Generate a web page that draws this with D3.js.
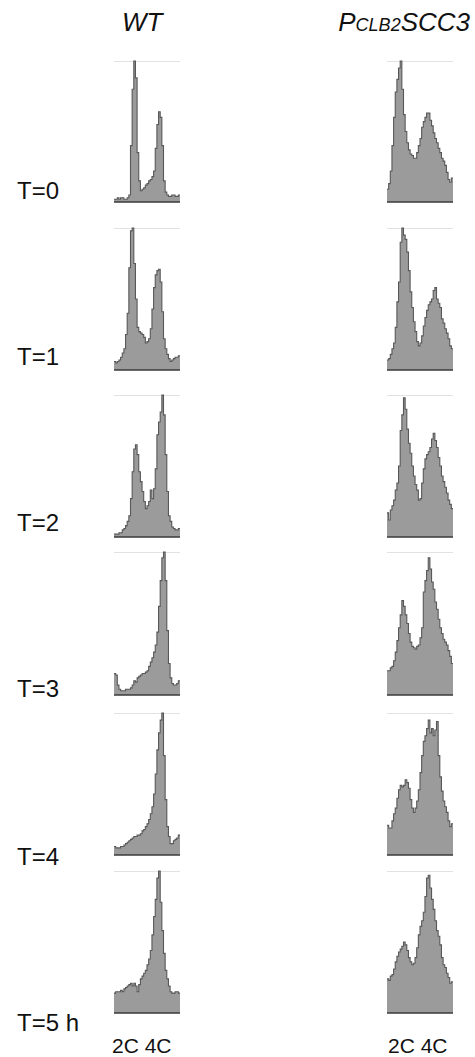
<!DOCTYPE html>
<html>
<head>
<meta charset="utf-8">
<script src="https://cdn.jsdelivr.net/npm/d3@7/dist/d3.min.js"></script>
<style>
  html, body { margin: 0; padding: 0; background: #fff; }
  svg { display: block; }
  text { font-family: "Liberation Sans", Arial, Helvetica, sans-serif; fill: #111; }
</style>
</head>
<body>
<svg id="chart" width="475" height="1057"></svg>
<script>
// ---- data ----
const timeLabels = ["T=0", "T=1", "T=2", "T=3", "T=4", "T=5 h"];
const strains = ["WT", "PCLB2SCC3"];
const dnaTicks = ["2C", "4C"];

// DNA-content histograms, 40 bins each, relative counts (0-100)
const wtT0 = [2,2,3,2,3,3,2,2,3,5,40,80,100,88,35,15,8,9,10,12,13,15,16,18,22,38,55,64,60,40,15,7,5,4,4,5,5,4,4,5];
const wtT1 = [6,5,6,7,9,12,15,25,40,72,98,100,75,50,30,27,26,25,23,19,20,22,29,43,58,67,70,71,62,41,22,15,11,8,6,7,8,9,9,10];
const wtT2 = [2,2,2,3,3,5,6,8,11,15,27,46,62,65,58,46,39,32,25,20,22,25,33,27,34,48,72,81,88,100,86,58,32,15,11,7,6,5,5,6];
const wtT3 = [15,14,7,4,3,3,3,4,4,4,5,7,10,9,12,13,14,15,15,16,17,20,23,26,30,35,44,62,80,96,100,80,45,22,12,8,7,7,8,10];
const wtT4 = [6,5,5,5,6,6,7,8,9,10,11,12,13,13,14,14,15,17,18,20,22,25,29,34,43,57,74,86,95,100,70,39,20,13,8,8,10,11,12,14];
const wtT5 = [14,15,15,15,16,15,17,18,19,20,21,19,21,19,15,20,24,26,28,30,34,38,44,55,68,80,95,100,78,58,42,30,24,19,15,14,14,15,15,14];

const sccT0 = [9,13,22,40,60,78,87,95,100,80,62,50,42,37,34,33,31,31,35,40,45,53,57,60,63,63,58,54,49,45,42,38,35,31,29,26,21,16,14,17];
const sccT1 = [7,8,11,15,19,30,48,62,90,100,95,92,83,70,55,44,34,27,20,17,19,24,31,37,42,46,48,50,56,58,50,47,44,36,33,29,26,22,17,15];
const sccT2 = [17,12,19,22,26,33,38,50,75,86,98,90,76,66,59,50,43,37,33,26,27,38,48,55,58,60,63,69,73,68,63,56,50,43,39,35,31,26,23,20];
const sccT3 = [17,17,19,20,24,30,38,47,56,66,62,56,50,43,37,34,33,32,34,35,40,47,72,80,87,96,88,79,74,65,60,53,47,43,39,37,35,31,27,22];
const sccT4 = [21,19,19,24,29,33,40,46,49,48,49,53,51,47,39,33,30,33,38,46,58,70,80,84,89,95,86,89,84,88,94,70,55,45,38,34,30,24,20,22];
const sccT5 = [24,23,26,27,31,36,40,43,45,47,50,48,44,39,36,34,35,39,46,55,61,65,71,82,95,97,88,80,73,65,58,54,48,39,34,32,28,25,21,22];

const wtSeries = [wtT0, wtT1, wtT2, wtT3, wtT4, wtT5];
const sccSeries = [sccT0, sccT1, sccT2, sccT3, sccT4, sccT5];

// ---- layout ----
const rowTop = [61, 228, 395, 552, 713, 871];
const rowBottom = [202, 370, 537, 695, 855, 1013];
const labelY = [199, 365, 531, 697, 865, 1031];
const colX = [[114, 180], [387, 453]];

const svg = d3.select("#chart");

function panel(values, x0, x1, top, bottom) {
  const n = values.length;
  const x = d3.scaleLinear().domain([0, n]).range([x0, x1]);
  const y = d3.scaleLinear().domain([0, 100]).range([bottom, top]);
  const pts = values.map((v, i) => [i, v]).concat([[n, values[n - 1]]]);
  const g = svg.append("g");
  // light top reference line
  g.append("line").attr("x1", x0).attr("x2", x1).attr("y1", top + 0.5).attr("y2", top + 0.5)
    .attr("stroke", "#e2e2e2").attr("stroke-width", 1);
  g.append("path").datum(pts)
    .attr("d", d3.area().x(d => x(d[0])).y0(bottom).y1(d => y(d[1])).curve(d3.curveStepAfter))
    .attr("fill", "#9b9b9b");
  g.append("path").datum(pts)
    .attr("d", d3.line().x(d => x(d[0])).y(d => y(d[1])).curve(d3.curveStepAfter))
    .attr("fill", "none").attr("stroke", "#585858").attr("stroke-width", 1.1);
  g.append("line").attr("x1", x0).attr("x2", x1).attr("y1", bottom).attr("y2", bottom)
    .attr("stroke", "#3a3a3a").attr("stroke-width", 1.3);
}

[wtSeries, sccSeries].forEach((series, c) => {
  series.forEach((vals, r) => panel(vals, colX[c][0], colX[c][1], rowTop[r], rowBottom[r]));
});

// row labels
svg.selectAll("text.tl").data(timeLabels).enter().append("text")
  .attr("class", "tl").attr("x", 17).attr("y", (d, i) => labelY[i])
  .attr("font-size", 24).text(d => d);

// column headers
svg.append("text").attr("x", 122).attr("y", 31).attr("font-size", 26)
  .attr("font-style", "italic").text(strains[0]);
const h2 = svg.append("text").attr("x", 470).attr("y", 31).attr("text-anchor", "end")
  .attr("font-style", "italic").attr("font-size", 26);
h2.append("tspan").text(strains[1].slice(0, 1));
h2.append("tspan").attr("font-size", 18).text(strains[1].slice(1, 5));
h2.append("tspan").text(strains[1].slice(5));

// DNA content axis labels
[112, 388].forEach(x0 => {
  svg.append("text").attr("x", x0).attr("y", 1053).attr("font-size", 21)
    .text(dnaTicks.join(" "));
});
</script>
</body>
</html>
